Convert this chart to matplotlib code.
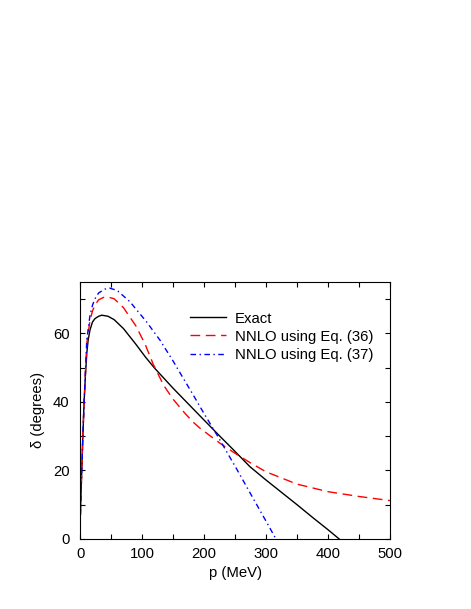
import matplotlib
matplotlib.use("Agg")
import matplotlib.pyplot as plt
from matplotlib.ticker import MultipleLocator

plt.rcParams['font.family'] = ['Liberation Sans', 'DejaVu Sans']
plt.rcParams['font.size'] = 10.7

# momentum (MeV) and phase shift (degrees)
p_exact = [0.5, 1.5, 2.7, 4.5, 6.5, 9, 11, 13, 16, 20, 24, 30, 35, 45, 55, 70, 91,
           105, 120, 150, 193, 226, 247, 274, 300, 325, 350, 375, 400, 418]
d_exact = [7, 13, 20, 30, 40, 49, 54.5, 58, 61, 63.3, 64.3, 65.0, 65.3, 65.0, 64.0,
           61.4, 56.6, 53.2, 49.9, 44.0, 36.0, 29.9, 26.1, 21.1, 17.2, 13.6, 10.0,
           6.3, 2.7, 0]

p_eq36 = [0.5, 1.5, 2.7, 4.5, 6.5, 9, 10.8, 16, 20, 24, 30, 38, 45, 55, 70, 90, 105,
          118, 135, 150, 170, 183, 193, 226, 250, 275, 300, 350, 400, 450, 500]
d_eq36 = [7, 13, 20, 30, 40, 50, 57, 63.8, 66.5, 68.3, 69.8, 70.5, 70.6, 70.1, 67.5,
          62.2, 56.8, 51.0, 44.8, 40.8, 36.5, 34.0, 32.4, 27.9, 25.0, 22.2, 19.6,
          16.0, 13.8, 12.4, 11.2]

p_eq37 = [0.5, 1.5, 2.7, 4.5, 6.5, 9, 10.8, 16, 20, 24, 30, 40, 48, 60, 80.6, 107.5,
          129, 150.5, 158.6, 180, 200, 223, 253, 280, 300, 316]
d_eq37 = [7, 13, 20, 30, 40, 50, 58, 65.3, 68.2, 70.1, 71.8, 72.9, 73.2, 72.5, 69.2,
          63.3, 58, 51.8, 49.3, 42.8, 36.6, 29.7, 20.3, 11.6, 5.2, 0]

labels = ["Exact", "NNLO using Eq. (36)", "NNLO using Eq. (37)"]

fig = plt.figure(figsize=(4.71, 6.09), dpi=100)
ax = fig.add_axes([0.170, 0.115, 0.658, 0.422])

ax.plot(p_exact, d_exact, color='black', lw=1.0, label=labels[0])
ax.plot(p_eq36, d_eq36, color='#ff0000', lw=1.0, dashes=(7, 4), label=labels[1])
ax.plot(p_eq37, d_eq37, color='#0000ff', lw=1.0, dashes=(4, 2.5, 1, 2.5), label=labels[2])

ax.set_xlim(0, 500)
ax.set_ylim(0, 75)
ax.xaxis.set_major_locator(MultipleLocator(100))
ax.xaxis.set_minor_locator(MultipleLocator(50))
ax.yaxis.set_major_locator(MultipleLocator(20))
ax.yaxis.set_minor_locator(MultipleLocator(10))
ax.tick_params(which='both', direction='in', top=True, right=True, length=3.5, width=0.8)
ax.tick_params(axis='x', which='major', pad=5.5)
ax.tick_params(axis='y', which='major', pad=7.5)

ax.set_xlabel("p (MeV)", labelpad=4)
ax.set_ylabel("δ (degrees)", labelpad=6)

ax.legend(loc='upper left', bbox_to_anchor=(0.355, 0.885), frameon=False,
          handlelength=2.4, handletextpad=0.6, labelspacing=0.28,
          borderpad=0, borderaxespad=0)

fig.savefig("out.png", dpi=100)
